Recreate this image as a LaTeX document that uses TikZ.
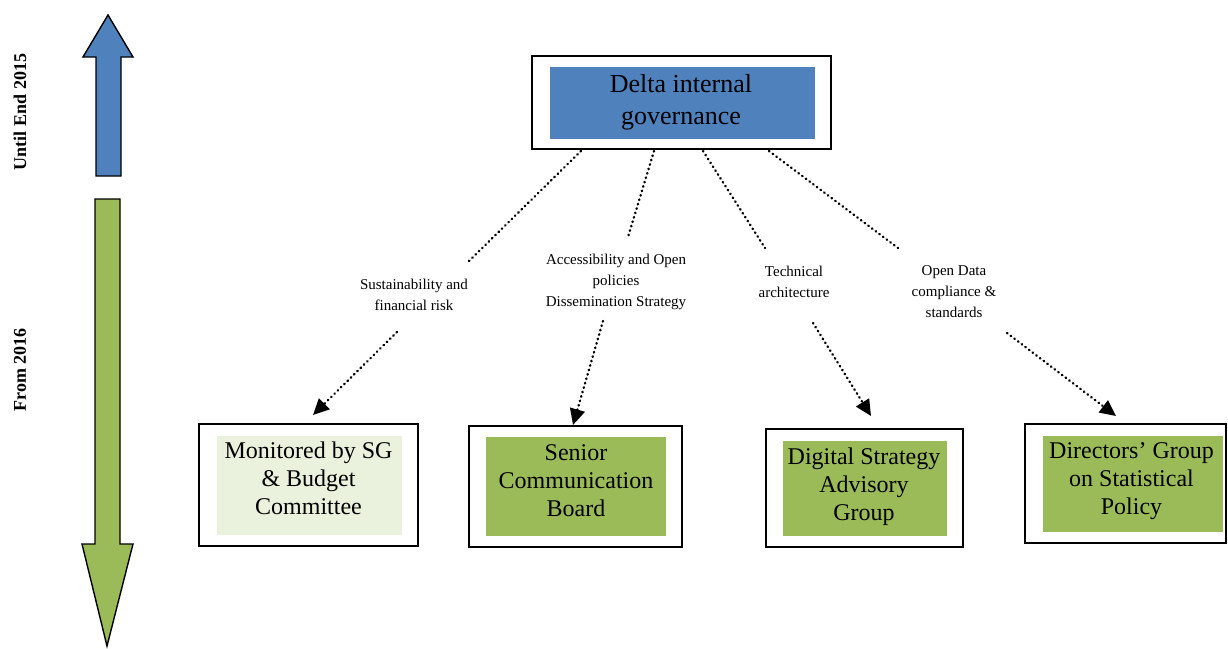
\documentclass[tikz,border=0pt]{standalone}
\usepackage{fontspec}
\setmainfont{Liberation Serif}
\usetikzlibrary{arrows.meta}
\definecolor{govblue}{HTML}{4F81BD}
\definecolor{govgreen}{HTML}{9BBB59}
\definecolor{palegreen}{HTML}{EAF1DD}
\tikzset{
  outerbox/.style={draw=black, line width=1.8pt, fill=white, inner sep=0pt},
  innerfill/.style={draw=none, inner sep=0pt},
  boxtext/.style={align=center, inner sep=0pt, font=\fontsize{24}{28}\selectfont},
  linklabel/.style={align=center, inner sep=0pt, font=\fontsize{15}{21}\selectfont},
  sidelabel/.style={rotate=90, inner sep=0pt, font=\fontsize{18}{21}\selectfont\bfseries},
  link/.style={line width=2.4pt, dash pattern=on 0.6pt off 4pt, line cap=round},
  linkarrow/.style={link, -{Triangle[length=16pt,width=15pt]}},
  timearrow/.style={draw=black, line width=1.4pt, line join=miter}
}
\begin{document}
\begin{tikzpicture}[x=1pt,y=-1pt]
\useasboundingbox (0,0) rectangle (1228,648);

% time axis arrows
\draw[timearrow, fill=govblue] (108,15) -- (133,57) -- (121,57) -- (121,176)
  -- (96,176) -- (96,57) -- (83,57) -- cycle;
\draw[timearrow, fill=govgreen] (95,199) -- (120,199) -- (120,544) -- (133,544)
  -- (107,646) -- (82,544) -- (95,544) -- cycle;
\node[sidelabel] (until) at (20,112) {Until End 2015};
\node[sidelabel] (from) at (20,370) {From 2016};

% governance box
\node[outerbox, minimum width=299pt, minimum height=93pt] (gov) at (681.5,102.5) {};
\node[innerfill, fill=govblue, minimum width=265pt, minimum height=72pt] (govin) at (682.5,103) {};
\node[font=\fontsize{26}{32}\selectfont, align=center, inner sep=0pt] (govtext) at (681,102) {Delta internal\\governance};

% bodies
\node[outerbox, minimum width=219pt, minimum height=122pt] (sg) at (308.5,485) {};
\node[innerfill, fill=palegreen, minimum width=185pt, minimum height=99pt] (sgin) at (309.5,485.5) {};
\node[boxtext] (sgtext) at (308.5,478.5) {Monitored by SG\\\& Budget\\Committee};

\node[outerbox, minimum width=213pt, minimum height=121pt] (scb) at (575.5,486.5) {};
\node[innerfill, fill=govgreen, minimum width=180pt, minimum height=99pt] (scbin) at (576,486.5) {};
\node[boxtext] (scbtext) at (576,480.5) {Senior\\Communication\\Board};

\node[outerbox, minimum width=197pt, minimum height=118pt] (dsag) at (864.5,488) {};
\node[innerfill, fill=govgreen, minimum width=164pt, minimum height=95pt] (dsagin) at (865,488.5) {};
\node[boxtext] (dsagtext) at (864,486.5) {Digital Strategy\\Advisory\\Group};

\node[outerbox, minimum width=201pt, minimum height=119pt] (dgsp) at (1125.5,483.5) {};
\node[innerfill, fill=govgreen, minimum width=180pt, minimum height=96pt] (dgspin) at (1133,484) {};
\node[boxtext] (dgsptext) at (1131.5,481.5) {Directors’ Group\\on Statistical\\Policy};

% topic labels
\node[linklabel] (risk) at (414,295) {Sustainability and\\financial risk};
\node[linklabel] (access) at (616,282) {Accessibility and Open\\policies\\Dissemination Strategy};
\node[linklabel] (tech) at (794,282) {Technical\\architecture};
\node[linklabel] (open) at (954,292) {Open Data\\compliance \&\\standards};

% connector end points
\coordinate (g1) at (581,151);  \coordinate (r1) at (468,262);
\coordinate (g2) at (654,151);  \coordinate (a1) at (628,237);
\coordinate (g3) at (703,151);  \coordinate (t1) at (765,248);
\coordinate (g4) at (769,151);  \coordinate (o1) at (898,248);
\coordinate (r2) at (397,332);  \coordinate (sgtop) at (313,415);
\coordinate (a2) at (603,321);  \coordinate (scbtop) at (573,425);
\coordinate (t2) at (813,323);  \coordinate (dsagtop) at (871,416);
\coordinate (o2) at (1007,333); \coordinate (dgsptop) at (1116,416);

% dotted links
\draw[link] (g1) -- (r1);
\draw[link] (g2) -- (a1);
\draw[link] (g3) -- (t1);
\draw[link] (g4) -- (o1);
\draw[linkarrow] (r2) -- (sgtop);
\draw[linkarrow] (a2) -- (scbtop);
\draw[linkarrow] (t2) -- (dsagtop);
\draw[linkarrow] (o2) -- (dgsptop);
\end{tikzpicture}
\end{document}
